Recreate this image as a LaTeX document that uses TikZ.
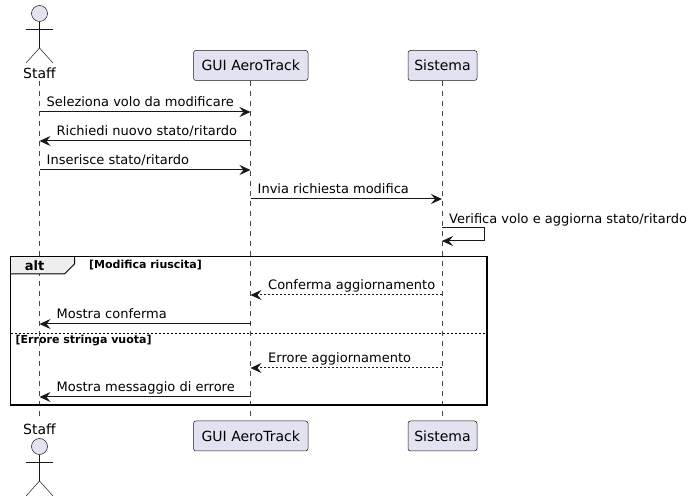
\documentclass[tikz,border=0pt]{standalone}
\usepackage{fontspec}
\setmainfont{DejaVu Sans}
\usetikzlibrary{arrows.meta}
\definecolor{partfill}{HTML}{E2E2F0}
\definecolor{partline}{HTML}{181818}
\definecolor{tabfill}{HTML}{EEEEEE}

\begin{document}
\begin{tikzpicture}[x=1pt,y=-1pt]
      \tikzset{
        part/.style={draw=partline,fill=partfill,rounded corners=2.5pt,line width=0.5pt,inner sep=0pt,minimum height=30pt,font=\fontsize{14}{16}\selectfont},
        actorline/.style={draw=partline,line width=0.5pt},
        actorname/.style={inner sep=0pt,font=\fontsize{14}{16}\selectfont},
        life/.style={draw=partline!80,line width=0.5pt,dash pattern=on 5pt off 5pt},
        msg/.style={draw=partline,line width=1pt,-{Stealth[length=11pt,width=10pt,inset=4pt]}},
        reply/.style={msg,dash pattern=on 2pt off 2pt},
        msgtext/.style={inner sep=0pt,anchor=base west,font=\fontsize{13}{15}\selectfont},
        guardtext/.style={inner sep=0pt,anchor=base west,font=\bfseries\fontsize{11}{13}\selectfont},
        frameline/.style={draw=black,line width=1.5pt}
      }
      \useasboundingbox (0,0) rectangle (694,502);

      % lifelines
      \coordinate (staffTop) at (39.5,81);
      \coordinate (staffBot) at (39.5,421);
      \coordinate (guiTop) at (250.5,81);
      \coordinate (guiBot) at (250.5,421);
      \coordinate (sysTop) at (442,81);
      \coordinate (sysBot) at (442,421);
      \draw[life] (staffTop) -- (staffBot);
      \draw[life] (guiTop) -- (guiBot);
      \draw[life] (sysTop) -- (sysBot);

      % participants
      \node[part,minimum width=114.5pt] (guiA) at (250.75,65.5) {GUI AeroTrack};
      \node[part,minimum width=69pt] (sysA) at (442.5,65.5) {Sistema};
      \node[part,minimum width=114.5pt] (guiB) at (250.75,436) {GUI AeroTrack};
      \node[part,minimum width=69pt] (sysB) at (442.5,436) {Sistema};

      % actors
      \foreach \name/\y/\lab in {staffA/13.5/73,staffB/446.5/429} {
        \node[actorline,circle,fill=partfill,inner sep=0pt,minimum size=16pt] (\name) at (39.5,\y) {};
        \coordinate (\name h) at (39.5,\y+34.5);
        \coordinate (\name l) at (26,\y+15.5);
        \coordinate (\name r) at (53,\y+15.5);
        \coordinate (\name fl) at (26,\y+49.5);
        \coordinate (\name fr) at (53,\y+49.5);
        \draw[actorline] (\name) -- (\name h);
        \draw[actorline] (\name l) -- (\name r);
        \draw[actorline] (\name fl) -- (\name h) -- (\name fr);
        \node[actorname] at (39.5,\lab) {Staff};
      }

      % message rows
      \foreach \row/\y in {a/112,b/141,c/170,d/199,e/228,f/295,g/324,h/368,i/397} {
        \coordinate (s\row) at (39.5,\y);
        \coordinate (g\row) at (250.5,\y);
        \coordinate (v\row) at (442,\y);
      }
      \coordinate (loopA) at (484.5,228);
      \coordinate (loopB) at (484.5,241);
      \coordinate (loopC) at (442,241);

      \draw[msg] (sa) -- (ga);
      \draw[msg] (gb) -- (sb);
      \draw[msg] (sc) -- (gc);
      \draw[msg] (gd) -- (vd);
      \draw[msg] (ve) -- (loopA) -- (loopB) -- (loopC);
      \draw[reply] (vf) -- (gf);
      \draw[msg] (gg) -- (sg);
      \draw[reply] (vh) -- (gh);
      \draw[msg] (gi) -- (si);

      \node[msgtext] at (46.5,107) {Seleziona volo da modificare};
      \node[msgtext] at (56.5,136) {Richiedi nuovo stato/ritardo};
      \node[msgtext] at (46.5,165) {Inserisce stato/ritardo};
      \node[msgtext] at (257.5,194) {Invia richiesta modifica};
      \node[msgtext] at (449,223.5) {Verifica volo e aggiorna stato/ritardo};
      \node[msgtext] at (268,290) {Conferma aggiornamento};
      \node[msgtext] at (56.5,319) {Mostra conferma};
      \node[msgtext] at (268,363) {Errore aggiornamento};
      \node[msgtext] at (56.5,392) {Mostra messaggio di errore};

      % alt frame
      \coordinate (frameNW) at (10.5,256.5);
      \coordinate (frameSE) at (487,405);
      \coordinate (tabA) at (74.5,256.5);
      \coordinate (tabB) at (74.5,264);
      \coordinate (tabC) at (64.5,274);
      \coordinate (tabD) at (10.5,274);
      \coordinate (sepA) at (10.5,333);
      \coordinate (sepB) at (487,333);
      \fill[tabfill] (frameNW) -- (tabA) -- (tabB) -- (tabC) -- (tabD) -- cycle;
      \draw[draw=black,line width=1pt] (tabA) -- (tabB) -- (tabC) -- (tabD);
      \draw[frameline] (frameNW) rectangle (frameSE);
      \draw[draw=black,line width=0.8pt,dash pattern=on 2pt off 2pt] (sepA) -- (sepB);
      \node[inner sep=0pt,font=\bfseries\fontsize{13}{15}\selectfont] at (34.5,266) {alt};
      \node[guardtext] at (89,269) {[Modifica riuscita]};
      \node[guardtext] at (15.5,344) {[Errore stringa vuota]};
    \end{tikzpicture}
\end{document}
